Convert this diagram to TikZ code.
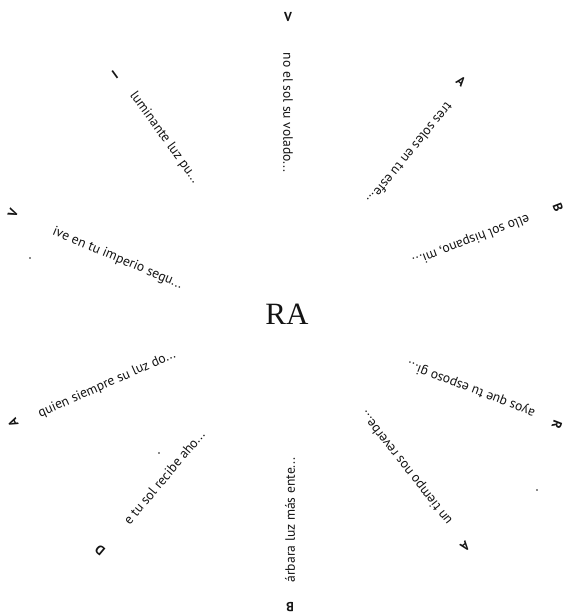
\documentclass[tikz,border=0pt]{standalone}
\usepackage{fontspec}
\setmainfont{Liberation Serif}
\setsansfont{PT Sans}
\usepackage{tikz}
\usetikzlibrary{positioning}
\definecolor{RAink}{RGB}{20,20,20}
\tikzset{
  hub/.style={text=RAink,font=\fontsize{31}{31}\selectfont,inner sep=0pt},
  verse/.style={text=RAink,font=\sffamily\fontsize{13.6}{14}\selectfont,inner sep=0pt},
  capletter/.style={text=RAink,font=\sffamily\bfseries\fontsize{13}{13}\selectfont,inner sep=0pt},
  speck/.style={circle,fill=RAink,inner sep=0pt,minimum size=1.8pt}
}

\begin{document}
\begin{tikzpicture}[x=1pt,y=-1pt]
  \useasboundingbox (0,0) rectangle (567,616);

  \node[hub] (ra) at (287,314) {RA};

  % lines of the verse, read inwards
  \node[verse,rotate=-90]  (t1)  at (288,112.5) {no el sol su volado...};
  \node[verse,rotate=-54]  (t2)  at (164.5,137.5) {luminante luz pu...};
  \node[verse,rotate=-23]  (t3)  at (117.5,258.5) {ive en tu imperio segu...};
  \node[verse,rotate=24]   (t4)  at (107,384) {quien siempre su luz do...};
  \node[verse,rotate=50]   (t5)  at (164,477.5) {e tu sol recibe aho...};
  \node[verse,rotate=90]   (t6)  at (290,520) {árbara luz más ente...};
  \node[verse,rotate=128]  (t7)  at (406.5,467.5) {un tiempo nos reverbe...};
  \node[verse,rotate=159]  (t8)  at (471,389) {ayos que tu esposo gi...};
  \node[verse,rotate=-159] (t9)  at (471,239.5) {ello sol hispano, mi...};
  \node[verse,rotate=-129] (t10) at (410,154) {tres soles en tu esfe...};

  % initial letters on the outer ring
  \node[capletter,rotate=0]   (l1)  at (288,17)  {V};
  \node[capletter,rotate=36]  (l2)  at (115,75)  {I};
  \node[capletter,rotate=67]  (l3)  at (13,213)  {V};
  \node[capletter,rotate=114] (l4)  at (13,423)  {A};
  \node[capletter,rotate=140] (l5)  at (100,550) {D};
  \node[capletter,rotate=180] (l6)  at (290,607) {B};
  \node[capletter,rotate=218] (l7)  at (465,547) {A};
  \node[capletter,rotate=249] (l8)  at (557,425) {R};
  \node[capletter,rotate=291] (l9)  at (558,207) {B};
  \node[capletter,rotate=321] (l10) at (461,81)  {A};

  % stray specks
  \node[speck] (s1) at (30,258) {};
  \node[speck] (s2) at (159,453) {};
  \node[speck] (s3) at (537,490) {};
\end{tikzpicture}
\end{document}
